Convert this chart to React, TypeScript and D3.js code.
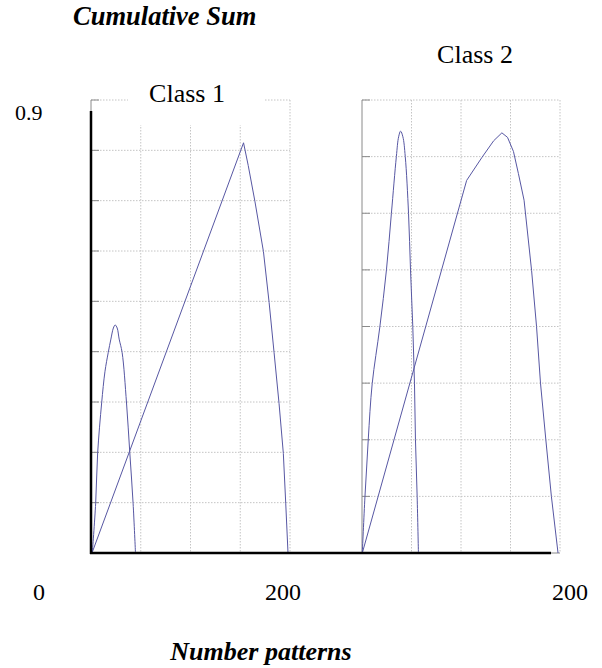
import React from 'react';
import * as d3 from 'd3';

// values: [number of patterns, cumulative sum]
const class1Peak = [
  [1.3, 0], [4.7, 0.099], [6.7, 0.199], [10.7, 0.298], [14, 0.36], [17.3, 0.398],
  [20, 0.425], [22.5, 0.447], [24.3, 0.453], [26.3, 0.447], [28.3, 0.425],
  [31.3, 0.398], [35.7, 0.298], [39, 0.199], [42.3, 0.099], [44.7, 0]
];
const class1Ramp = [
  [1, 0], [153.3, 0.815], [158, 0.77], [164.7, 0.699], [173.3, 0.599], [179, 0.498],
  [184, 0.398], [189, 0.297], [193.3, 0.198], [195.7, 0.099], [198, 0]
];
const class2Peak = [
  [0.3, 0], [3, 0.1], [6.3, 0.2], [10.3, 0.299], [18, 0.399], [24.7, 0.5],
  [29.7, 0.6], [34.7, 0.7], [37, 0.735], [39, 0.745], [41.3, 0.735], [43.7, 0.7],
  [47, 0.6], [49, 0.5], [51.3, 0.4], [53, 0.3], [54, 0.2], [55.7, 0.1], [57, 0]
];
const class2Ramp = [
  [0.3, 0], [105.7, 0.658], [121.3, 0.699], [133, 0.728], [141.3, 0.742],
  [147, 0.734], [153, 0.709], [158, 0.67], [163.7, 0.623], [171.3, 0.499],
  [176.3, 0.4], [180.3, 0.3], [185.7, 0.2], [191.3, 0.1], [198, 0]
];

const panelTitles = ['Class 1', 'Class 2'];
const yTopLabel = '0.9';
const xTickLabels = ['0', '200', '200'];

const lineColor = '#5757a3';
const gridColor = '#c4c4c4';
const serif = '"Liberation Serif", "Times New Roman", serif';

export default function App() {
  const x1 = d3.scaleLinear().domain([0, 200]).range([91, 290]);
  const y1 = d3.scaleLinear().domain([0, 0.9]).range([553, 100]);
  const x2 = d3.scaleLinear().domain([0, 200]).range([362, 560]);
  const y2 = d3.scaleLinear().domain([0, 0.8]).range([553, 100]);

  // the hump-shaped curves are smooth, the ramps have sharp corners
  const hump1 = d3.line<number[]>().x(d => x1(d[0])).y(d => y1(d[1])).curve(d3.curveCatmullRom.alpha(0.5));
  const ramp1 = d3.line<number[]>().x(d => x1(d[0])).y(d => y1(d[1]));
  const hump2 = d3.line<number[]>().x(d => x2(d[0])).y(d => y2(d[1])).curve(d3.curveCatmullRom.alpha(0.5));
  const ramp2 = d3.line<number[]>().x(d => x2(d[0])).y(d => y2(d[1]));

  const grid = (x: d3.ScaleLinear<number, number>, y: d3.ScaleLinear<number, number>, ny: number) => {
    const [xa, xb] = x.range();
    const [yb, ya] = y.range();
    return (
      <g>
        {y.ticks(ny).filter(t => t > 0).map(t => (
          <g key={'h' + t}>
            <line x1={xa} x2={xb} y1={y(t)} y2={y(t)} stroke={gridColor} strokeDasharray="1.5,1.5" />
            <line x1={xa} x2={xa + 8} y1={y(t)} y2={y(t)} stroke="#8a8a8a" />
          </g>
        ))}
        {x.ticks(4).filter(t => t > 0).map(t => (
          <line key={'v' + t} x1={x(t)} x2={x(t)} y1={ya} y2={yb} stroke={gridColor} strokeDasharray="1.5,1.5" />
        ))}
      </g>
    );
  };

  return (
    <svg width={602} height={668} style={{ position: 'absolute', left: 0, top: 0, background: '#fff' }}>
      <text x={73} y={25} fontFamily={serif} fontSize={26.5} fontWeight="bold" fontStyle="italic">
        Cumulative Sum
      </text>

      {/* panel 1 */}
      {grid(x1, y1, 9)}
      <line x1={91} x2={91} y1={100} y2={111} stroke="#8a8a8a" />
      <rect x={128} y={78} width={137} height={47} fill="#fff" />
      <text x={187} y={102} textAnchor="middle" fontFamily={serif} fontSize={26}>{panelTitles[0]}</text>
      <path d={hump1(class1Peak) ?? ''} fill="none" stroke={lineColor} strokeWidth={1} />
      <path d={ramp1(class1Ramp) ?? ''} fill="none" stroke={lineColor} strokeWidth={1} />
      <line x1={91} x2={91} y1={111} y2={554} stroke="#000" strokeWidth={2.5} />

      {/* panel 2 */}
      {grid(x2, y2, 8)}
      <line x1={362} x2={362} y1={100} y2={553} stroke="#8a8a8a" />
      <line x1={362} x2={560} y1={553} y2={553} stroke="#8a8a8a" />
      <text x={475} y={63} textAnchor="middle" fontFamily={serif} fontSize={26}>{panelTitles[1]}</text>
      <path d={hump2(class2Peak) ?? ''} fill="none" stroke={lineColor} strokeWidth={1} />
      <path d={ramp2(class2Ramp) ?? ''} fill="none" stroke={lineColor} strokeWidth={1} />

      {/* shared baseline */}
      <line x1={90} x2={551} y1={553} y2={553} stroke="#000" strokeWidth={2.5} />

      <text x={15} y={120} fontFamily={serif} fontSize={22}>{yTopLabel}</text>
      <text x={39} y={600} textAnchor="middle" fontFamily={serif} fontSize={24}>{xTickLabels[0]}</text>
      <text x={283} y={600} textAnchor="middle" fontFamily={serif} fontSize={24}>{xTickLabels[1]}</text>
      <text x={570} y={600} textAnchor="middle" fontFamily={serif} fontSize={24}>{xTickLabels[2]}</text>
      <text x={261} y={660} textAnchor="middle" fontFamily={serif} fontSize={26} fontWeight="bold" fontStyle="italic">
        Number patterns
      </text>
    </svg>
  );
}
